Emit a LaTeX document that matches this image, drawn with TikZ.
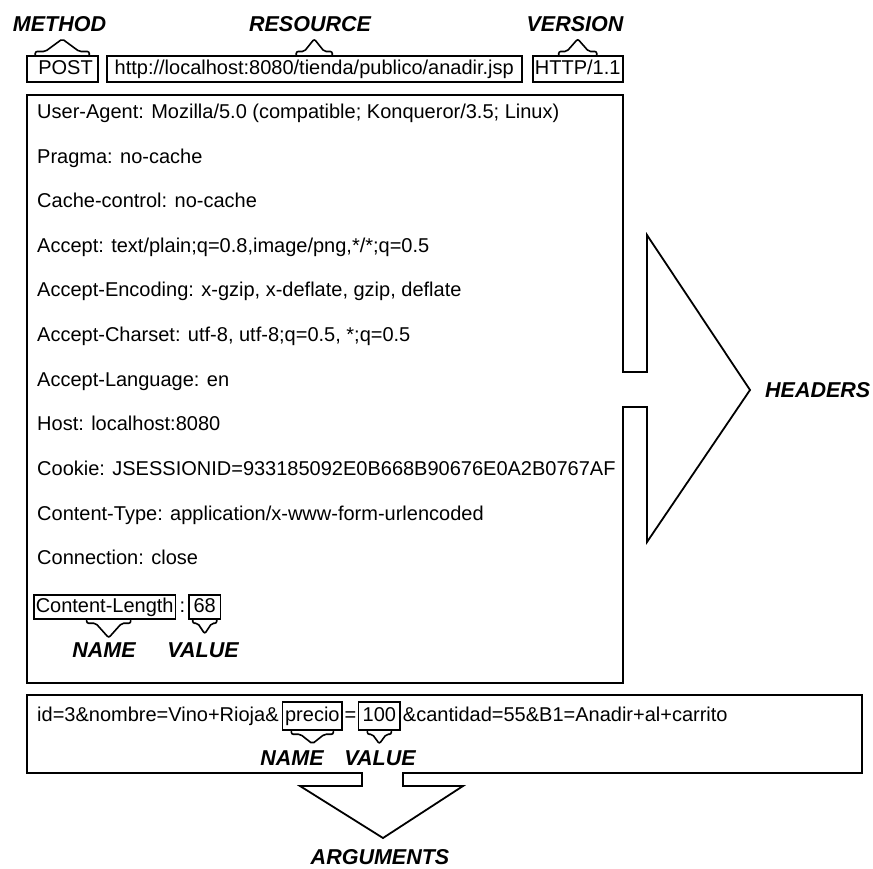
\documentclass[tikz,border=0pt]{standalone}
\usepackage{fontspec}
\setmainfont{Liberation Sans}
\usetikzlibrary{calc,positioning}

% bracket under/over a box: #1 foot centre, #2 half width, #3 flat length,
% #4 apex offset (negative = upwards), #5 foot rise (same sign as #4)
\newcommand\tagbracket[5]{%
  \draw[brkline] ($#1+(-#2,0)$) -- ($#1+(-#2,#5)$) -- ($#1+(-#2+#3,#5)$)
    -- ($#1+(0,#4)$) -- ($#1+(#2-#3,#5)$) -- ($#1+(#2,#5)$) -- ($#1+(#2,0)$);}

\begin{document}
\begin{tikzpicture}[x=1pt,y=-1pt,line join=miter,
  frame/.style={draw=black,line width=1.8pt},
  brkline/.style={draw=black,line width=1.6pt,rounded corners=2pt},
  txt/.style={font=\fontsize{20}{24}\selectfont,inner sep=0pt,
    text height=14.5pt,text depth=4pt},
  boxed/.style={draw=black,line width=1.5pt,font=\fontsize{20}{24}\selectfont,
    inner ysep=0pt,text height=14.5pt,text depth=4pt},
  tag/.style={font=\fontsize{21.5}{26}\selectfont\bfseries\itshape,inner sep=0pt}]

\useasboundingbox[fill=white] (0,0) rectangle (873,868);

% request line
\node[boxed,anchor=north west,minimum height=26pt,inner xsep=5pt,
  text width=61pt,align=right] (post) at (26,55) {POST};
\node[boxed,anchor=north west,minimum height=26pt,minimum width=415pt,
  inner xsep=2pt] (url) at (106,55) {http://localhost:8080/tienda/publico/anadir.jsp};
\node[boxed,anchor=north west,minimum height=26pt,minimum width=90pt,
  inner xsep=1pt] (ver) at (532,55) {HTTP/1.1};

\node[tag] (method) at (59.5,24.5) {METHOD};
\node[tag] (resource) at (310,24.5) {RESOURCE};
\node[tag] (version) at (575,24.5) {VERSION};

\tagbracket{(post.north)}{27}{10}{-16}{-3.5}
\tagbracket{(url.north)}{18}{8}{-16}{-3.5}
\tagbracket{(ver.north)}{19}{8}{-16}{-3.5}

% header block with its arrow
\draw[frame] (623,372) -- (623,95) -- (27,95) -- (27,683) -- (623,683)
  -- (623,407) -- (647,407) -- (647,542) -- (750,390) -- (647,235)
  -- (647,372) -- cycle;
\node[tag,anchor=west] (headers) at (765,390) {HEADERS};

\node[txt,anchor=west] (h1) at (37,113) {User-Agent: Mozilla/5.0 (compatible; Konqueror/3.5; Linux)};
\node[txt,anchor=west] (h2) at (37,158) {Pragma: no-cache};
\node[txt,anchor=west] (h3) at (37,202) {Cache-control: no-cache};
\node[txt,anchor=west] (h4) at (37,247) {Accept: text/plain;q=0.8,image/png,*/*;q=0.5};
\node[txt,anchor=west] (h5) at (37,291) {Accept-Encoding: x-gzip, x-deflate, gzip, deflate};
\node[txt,anchor=west] (h6) at (37,336) {Accept-Charset: utf-8, utf-8;q=0.5, *;q=0.5};
\node[txt,anchor=west] (h7) at (37,381) {Accept-Language: en};
\node[txt,anchor=west] (h8) at (37,425) {Host: localhost:8080};
\node[txt,anchor=west] (h9) at (37,470) {Cookie: JSESSIONID=933185092E0B668B90676E0A2B0767AF};
\node[txt,anchor=west] (h10) at (37,515) {Content-Type: application/x-www-form-urlencoded};
\node[txt,anchor=west] (h11) at (37,559) {Connection: close};

\node[boxed,anchor=west,minimum height=24pt,inner xsep=2pt] (clname) at (33,607) {Content-Length};
\node[txt,right=3pt of clname] (clcolon) {:};
\node[boxed,right=3pt of clcolon,minimum height=24pt,inner xsep=4.5pt] (clvalue) {68};

\tagbracket{($(clname.south)+(4,0)$)}{22}{9}{18}{3.5}
\tagbracket{(clvalue.south)}{12}{5}{14}{3.5}
\node[tag] (hname) at (104,650) {NAME};
\node[tag] (hvalue) at (203,650) {VALUE};

% argument block with its arrow
\draw[frame] (27,695) -- (862,695) -- (862,773) -- (403,773) -- (403,786)
  -- (463,786) -- (383,838) -- (300,786) -- (362,786) -- (362,773)
  -- (27,773) -- cycle;
\node[tag] (arguments) at (380,857) {ARGUMENTS};

\node[txt,anchor=west] (a1) at (37,716) {id=3\&nombre=Vino+Rioja\&};
\node[boxed,right=3pt of a1,minimum height=28pt,inner xsep=2.5pt] (aname) {precio};
\node[txt,right=1.5pt of aname] (aeq) {=};
\node[boxed,right=1.5pt of aeq,minimum height=28pt,inner xsep=4pt] (avalue) {100};
\node[txt,right=2pt of avalue] (a2) {\&cantidad=55\&B1=Anadir+al+carrito};

\tagbracket{(aname.south)}{21}{9}{13}{3.5}
\tagbracket{(avalue.south)}{12}{5}{13}{3.5}
\node[tag] (aname-tag) at (292,758) {NAME};
\node[tag] (avalue-tag) at (380,758) {VALUE};

\end{tikzpicture}
\end{document}
